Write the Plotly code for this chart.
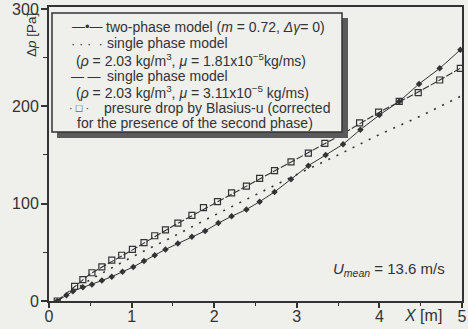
import plotly.graph_objects as go

# ---- data ----
x_two_phase = [0.1, 0.21, 0.29, 0.41, 0.52, 0.64, 0.76, 0.89, 1.02, 1.15, 1.28, 1.41, 1.56, 1.73,
               1.89, 2.05, 2.21, 2.39, 2.55, 2.73, 2.93, 3.14, 3.35, 3.56, 3.77, 4.0, 4.24, 4.48, 4.73, 4.98]
dp_two_phase = [0, 6, 10, 14, 17, 21, 25, 30, 35, 41, 47, 53, 59, 66,
                72, 80, 87, 94, 102, 112, 125, 139, 150, 161, 176, 191, 205, 223, 239, 258]

x_blasius = [0.1, 0.31, 0.41, 0.52, 0.64, 0.76, 0.88, 1.01, 1.15, 1.28, 1.41, 1.56, 1.73, 1.87,
             2.04, 2.21, 2.39, 2.55, 2.73, 2.93, 3.14, 3.34, 3.54, 3.76, 3.99, 4.24, 4.47, 4.73, 4.98]
dp_blasius = [0, 15, 22, 29, 35, 42, 47, 53, 60, 67, 73, 80, 88, 96,
              102, 111, 118, 126, 134, 143, 152, 162, 172, 183, 194, 205, 214, 227, 239]

x_single = [0.1, 0.5, 1.0, 1.5, 2.0, 2.5, 3.0, 3.5, 4.0, 4.5, 5.0]
dp_single_181 = [0, 22, 45, 66, 88, 109, 130, 150, 171, 190, 211]
dp_single_311 = [0, 28, 52, 77, 100, 123, 146, 169, 194, 216, 240]

x_ticks = [0, 1, 2, 3, 4, 5]
y_ticks = [0, 100, 200, 300]

# ---- layout helpers (pixel -> paper) ----
W, H = 468, 329
L, R, T, B = 49, 6, 7, 28
PW, PH = W - L - R, H - T - B
def px(x):
    return (x - L) / PW
def py(y):
    return (H - B - y) / PH

INK = "#333333"
BG = "#efefec"
FONT = "Liberation Sans, Arial, sans-serif"

fig = go.Figure()
fig.add_trace(go.Scatter(x=x_single, y=dp_single_181, mode="lines",
                         line=dict(color=INK, width=1.6, dash="2px,7px"), showlegend=False))
fig.add_trace(go.Scatter(x=x_single, y=dp_single_311, mode="lines",
                         line=dict(color=INK, width=1.1, dash="7px,2px"), showlegend=False))
fig.add_trace(go.Scatter(x=x_blasius, y=dp_blasius, mode="markers",
                         marker=dict(symbol="square-open", size=6, color=INK, line=dict(width=1.2)),
                         showlegend=False))
fig.add_trace(go.Scatter(x=x_two_phase, y=dp_two_phase, mode="lines+markers",
                         line=dict(color=INK, width=1.0),
                         marker=dict(symbol="diamond", size=5, color=INK), showlegend=False))

fig.update_xaxes(range=[0, 5], tickvals=x_ticks, ticks="outside", ticklen=5, tickwidth=1.5,
                 tickcolor=INK, showline=True, linecolor=INK, linewidth=2, mirror=True,
                 showgrid=False, zeroline=False, automargin=False, ticklabelstandoff=-5,
                 minor=dict(dtick=0.5, ticks="outside", ticklen=3, tickcolor=INK, tickwidth=1.2),
                 tickfont=dict(size=16, color=INK, family=FONT))
fig.update_yaxes(range=[0, 302], tickvals=y_ticks, ticks="outside", ticklen=6, tickwidth=1.5,
                 tickcolor=INK, showline=True, linecolor=INK, linewidth=2, mirror=True,
                 showgrid=False, zeroline=False, automargin=False, ticklabelstandoff=-1,
                 minor=dict(dtick=50, ticks="outside", ticklen=4, tickcolor=INK, tickwidth=1.2),
                 tickfont=dict(size=16, color=INK, family=FONT))

# legend box with shadow
shapes = [
    dict(type="rect", xref="paper", yref="paper", x0=px(57), x1=px(348), y0=py(138), y1=py(18),
         fillcolor="#5a5a5a", line=dict(width=0), layer="above"),
    dict(type="rect", xref="paper", yref="paper", x0=px(52), x1=px(342), y0=py(132), y1=py(13),
         fillcolor=BG, line=dict(color=INK, width=1.5), layer="above"),
]

ann = []
def text(x, y, s, size=14, anchor="left", **kw):
    ann.append(dict(xref="paper", yref="paper", x=px(x), y=py(y), text=s, showarrow=False,
                    xanchor=anchor, yanchor="middle", font=dict(size=size, color=INK, family=FONT), **kw))

text(70, 27, "—•—", 13)
text(104, 27, "two-phase model (<i>m</i> = 0.72, <i>Δγ</i>= 0)")
text(69, 43, "· · ·  ·", 13)
text(105, 43, "single phase model")
text(74, 60, "(<i>ρ</i> = 2.03 kg/m<sup>3</sup>, <i>μ</i> = 1.81x10<sup>−5</sup>kg/ms)")
text(69, 76, "— —", 13)
text(105, 76, "single phase model")
text(74, 92, "(<i>ρ</i> = 2.03 kg/m<sup>3</sup>, <i>μ</i> = 3.11x10<sup>−5</sup> kg/ms)")
text(67, 108, "· □ ·", 11)
text(102, 108, "presure drop by Blasius-u (corrected")
text(75, 123, "for the presence of the second phase)")

text(447, 269, "<i>U<sub>mean</sub></i> = 13.6 m/s", 15, anchor="right")
text(402, 315, "<i>X</i> [m]", 16)
text(31, 35, "Δ<i>p</i> [Pa]", 13.5, anchor="center", textangle=-90)

fig.update_layout(width=W, height=H, margin=dict(l=L, r=R, t=T, b=B),
                  paper_bgcolor=BG, plot_bgcolor=BG, shapes=shapes, annotations=ann,
                  showlegend=False, font=dict(family=FONT, color=INK))
fig.write_html("out.html", config={"displayModeBar": False},
               post_script="document.body.style.margin='0';document.body.style.background='%s';" % BG)
